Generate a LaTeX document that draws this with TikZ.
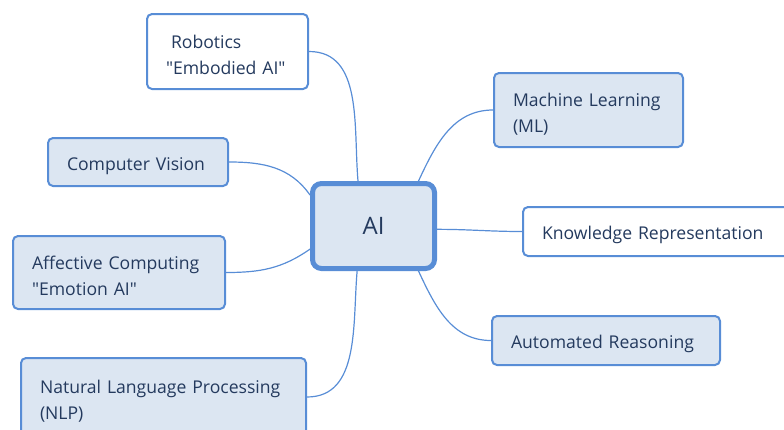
\documentclass[tikz,border=0pt]{standalone}
\usepackage{fontspec}
\setmainfont{Open Sans}
\definecolor{mapblue}{RGB}{88,141,214}
\definecolor{mapfill}{RGB}{220,230,242}
\definecolor{maptext}{RGB}{36,58,94}
\newcommand{\qq}[1]{\textquotedbl#1\textquotedbl}
\tikzset{
    topic/.style={draw=mapblue, line width=2pt, rounded corners=5pt, fill=mapfill,
        text=maptext, inner xsep=19pt, inner ysep=0pt, align=left,
        font=\fontsize{17.6}{26}\selectfont,
        execute at begin node={\hyphenpenalty=10000\rule{0pt}{21pt}}},
    branch/.style={draw=mapblue, line width=1.2pt}
}
\begin{document}
\begin{tikzpicture}[x=1pt, y=-1pt]
    \useasboundingbox (0,0) rectangle (784,429);

    % Central topic
    \node[draw=mapblue, line width=5pt, rounded corners=9pt, fill=mapfill, text=maptext,
        minimum width=122pt, minimum height=85pt, font=\fontsize{24}{28}\selectfont]
        (ai) at (373.5,226) {\raisebox{-2pt}{AI}};

    % Left branches
    \node[topic, fill=white, text width=123pt, minimum height=75pt] (rob) at (227.5,51.5)
        {\hspace*{5pt}Robotics\\\qq{Embodied AI}};
    \node[topic, text width=142pt, minimum height=48pt] (cv) at (138,162) {Computer Vision};
    \node[topic, text width=174pt, minimum height=73pt] (aff) at (119,272.5)
        {Affective Computing\\\qq{Emotion AI}};
    \node[topic, text width=247pt, minimum height=78pt] (nlp) at (163.5,397)
        {Natural Language Processing\\(NLP)};

    % Right branches
    \node[topic, text width=151pt, minimum height=74pt] (ml) at (588.5,110)
        {Machine Learning\\(ML)};
    \node[topic, fill=white, text width=248pt, minimum height=49pt] (kr) at (666,231.5)
        {Knowledge Representation};
    \node[topic, text width=190pt, minimum height=49pt] (ar) at (606,340.5)
        {Automated Reasoning};

    % Connectors
    \draw[branch] (ai.109) to[out=95, in=0] (rob.east);
    \draw[branch] (ai.154) to[out=125, in=0] (cv.east);
    \draw[branch] (ai.-160) to[out=-145, in=0] (aff.east);
    \draw[branch] (ai.-110) to[out=-95, in=0] (nlp.east);
    \draw[branch] (ai.45) to[out=65, in=180] (ml.west);
    \draw[branch] (ai.-3) to[out=0, in=180] (kr.west);
    \draw[branch] (ai.-45) to[out=-65, in=180] (ar.west);
\end{tikzpicture}
\end{document}
